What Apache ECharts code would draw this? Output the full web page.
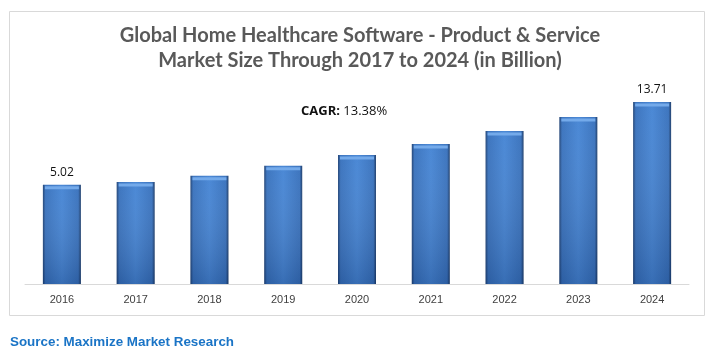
<!DOCTYPE html>
<html><head><meta charset="utf-8">
<script src="https://cdn.jsdelivr.net/npm/echarts@6/dist/echarts.min.js"></script>
<style>html,body{margin:0;padding:0;background:#fff}#c{width:720px;height:361px}</style>
</head><body><div id="c"></div>
<script>
const categories = ['2016','2017','2018','2019','2020','2021','2022','2023','2024'];
const values = [5.02, 5.30, 5.96, 7.01, 8.14, 9.30, 10.66, 12.13, 13.71];
const labelled = [true, false, false, false, false, false, false, false, true];
const titleLines = ['Global Home Healthcare Software - Product & Service', 'Market Size Through 2017 to 2024 (in Billion)'];
const cagrLabel = 'CAGR:';
const cagrValue = '13.38%';
const sourceText = 'Source: Maximize Market Research';
// the original value axis does not start at zero; bars rise from this base value
const axisBase = -5.4;
const axisTop = 15;

const shifted = values.map(v => v - axisBase);
const chart = echarts.init(document.getElementById('c'), null, {renderer:'canvas'});
const barGrad = new echarts.graphic.LinearGradient(0,0,1,0,[
  {offset:0, color:'#1c3f72'},
  {offset:0.07, color:'#3670bc'},
  {offset:0.5, color:'#4484d4'},
  {offset:0.93, color:'#3670bc'},
  {offset:1, color:'#183866'}
]);
const shadeGrad = new echarts.graphic.LinearGradient(0,0,0,1,[
  {offset:0, color:'rgba(255,255,255,0.04)'},
  {offset:1, color:'rgba(10,30,70,0.22)'}
]);
chart.setOption({
  animation:false,
  grid:{left:25, right:31, top:89.7, bottom:77},
  xAxis:{type:'category', data:categories,
    axisLine:{lineStyle:{color:'#d9d9d9'}}, axisTick:{show:false},
    axisLabel:{color:'#404040', fontSize:11, fontFamily:'Liberation Sans', margin:10}},
  yAxis:{type:'value', min:0, max:axisTop - axisBase, show:false, splitLine:{show:false}},
  graphic:[
    {type:'rect', shape:{x:9.5,y:11.5,width:695,height:304}, style:{fill:'none', stroke:'#d9d9d9', lineWidth:1}, silent:true},
    {type:'text', left:'center', top:23, style:{text:titleLines.join('\n'), font:'bold 20px Lato', fill:'#595959', textAlign:'center', lineHeight:25}},
    {type:'text', left:301, top:105, style:{text:'{b|'+cagrLabel+'} {n|'+cagrValue+'}', rich:{b:{font:'bold 13px "Open Sans"', fill:'#111'}, n:{font:'13px "Open Sans"', fill:'#111'}}}},
    {type:'text', left:10, top:336, style:{text:sourceText, font:'bold 13.4px "Liberation Sans"', fill:'#1a74c6'}}
  ],
  series:[
    {type:'bar', data:shifted, barWidth:38, itemStyle:{color:barGrad},
      label:{show:true, position:'top', distance:6, color:'#111', fontSize:12, fontFamily:'Open Sans',
        formatter:p=>labelled[p.dataIndex]?values[p.dataIndex].toFixed(2):''}},
    {type:'bar', data:shifted, barWidth:38, barGap:'-100%', itemStyle:{color:shadeGrad}, silent:true},
    {type:'pictorialBar', data:shifted, symbol:'rect', symbolPosition:'end', symbolSize:[34,3], symbolOffset:[0,'50%'],
      itemStyle:{color:'#74aaea'}, z:5, silent:true}
  ]
});
</script></body></html>
